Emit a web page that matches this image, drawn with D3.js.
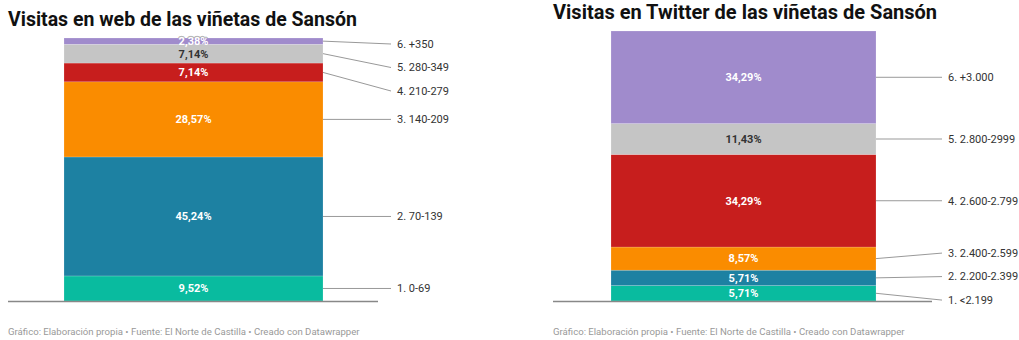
<!DOCTYPE html>
<html>
<head>
<meta charset="utf-8">
<script src="https://cdn.jsdelivr.net/npm/d3@7"></script>
<style>
  html, body { margin: 0; padding: 0; background: #fff; }
  svg { display: block; font-family: Roboto, "Noto Sans", sans-serif; }
</style>
</head>
<body>
<svg id="chart" width="1019" height="340"></svg>
<script>
// Datawrapper-style stacked columns, two panels side by side.
const webCategories = ['1. 0-69', '2. 70-139', '3. 140-209', '4. 210-279', '5. 280-349', '6. +350'];
const webValues = [9.52, 45.24, 28.57, 7.14, 7.14, 2.38];

const twitterCategories = ['1. <2.199', '2. 2.200-2.399', '3. 2.400-2.599', '4. 2.600-2.799', '5. 2.800-2999', '6. +3.000'];
const twitterValues = [5.71, 5.71, 8.57, 34.29, 11.43, 34.29];

const segmentColors = ['#09bb9f', '#1d81a2', '#fa8c00', '#c71e1d', '#c5c5c5', '#a08bcc'];
const darkText = ['#c5c5c5'];

const titles = ['Visitas en web de las viñetas de Sansón', 'Visitas en Twitter de las viñetas de Sansón'];
const footer = 'Gráfico: Elaboración propia • Fuente: El Norte de Castilla • Creado con Datawrapper';

const svg = d3.select('#chart');
const fmt = v => d3.format('.2f')(v).replace('.', ',') + '%';

const panels = [
  { left: 8, titleY: 26, titleSize: 19.5, barX: 64, barW: 259, top: 38, bottom: 301, baseEnd: 378, labelX: 397,
    categories: webCategories, values: webValues, title: titles[0] },
  { left: 553, titleY: 18.5, titleSize: 20, barX: 611, barW: 265, top: 31, bottom: 301, baseEnd: 932, labelX: 948,
    categories: twitterCategories, values: twitterValues, title: titles[1] }
];

// spreads labels so they don't overlap: merge clashing groups around their mean.
// targets must be sorted top to bottom.
function dodge(targets, gap, minY, maxY) {
  const place = g => {
    let start = g.mean - (g.n - 1) * gap / 2;
    g.start = Math.max(minY, Math.min(start, maxY - (g.n - 1) * gap));
  };
  const groups = targets.map((t, i) => ({ idx: [i], mean: t, n: 1 }));
  groups.forEach(place);
  let changed = true;
  while (changed) {
    changed = false;
    for (let i = 0; i < groups.length - 1; i++) {
      const a = groups[i], b = groups[i + 1];
      if (b.start - (a.start + (a.n - 1) * gap) < gap) {
        const idx = a.idx.concat(b.idx);
        const merged = { idx, n: idx.length, mean: d3.mean(idx, j => targets[j]) };
        place(merged);
        groups.splice(i, 2, merged);
        changed = true;
        break;
      }
    }
  }
  const out = [];
  groups.forEach(g => g.idx.forEach((j, k) => { out[j] = g.start + k * gap; }));
  return out;
}

panels.forEach(p => {
  const g = svg.append('g');

  g.append('text')
    .attr('x', p.left).attr('y', p.titleY)
    .attr('font-size', p.titleSize + 'px').attr('font-weight', 700).attr('fill', '#111')
    .text(p.title);

  const y = d3.scaleLinear().domain([0, d3.sum(p.values)]).range([p.bottom, p.top]);
  const stack = p.values.map((v, i) => {
    const y0 = d3.sum(p.values.slice(0, i));
    return { v, i, y0, y1: y0 + v, cat: p.categories[i] };
  });

  g.selectAll('rect.seg').data(stack).join('rect')
    .attr('class', 'seg')
    .attr('x', p.barX).attr('width', p.barW)
    .attr('y', d => y(d.y1)).attr('height', d => y(d.y0) - y(d.y1))
    .attr('fill', d => segmentColors[d.i])
    .attr('stroke', 'rgba(255,255,255,0.35)').attr('stroke-width', 0.5);

  // baseline
  g.append('line')
    .attr('x1', p.left).attr('x2', p.baseEnd)
    .attr('y1', p.bottom + 0.5).attr('y2', p.bottom + 0.5)
    .attr('stroke', '#888').attr('stroke-width', 1.5);

  // value labels inside segments
  const vals = g.selectAll('text.val').data(stack).join('text')
    .attr('class', 'val')
    .attr('x', p.barX + p.barW / 2)
    .attr('y', d => (y(d.y0) + y(d.y1)) / 2)
    .attr('dy', '0.35em')
    .attr('text-anchor', 'middle')
    .attr('font-size', '11px').attr('font-weight', 700)
    .attr('fill', d => darkText.includes(segmentColors[d.i]) ? '#333' : '#fff')
    .text(d => fmt(d.v));
  vals.filter(d => !darkText.includes(segmentColors[d.i]))
    .clone(true).lower()
    .attr('fill', 'none')
    .attr('stroke', 'rgba(0,0,0,0.3)').attr('stroke-width', 2.5)
    .attr('stroke-linejoin', 'round');

  // category labels with leader lines (stack runs bottom-up, so reverse for dodge)
  const mids = stack.map(d => (y(d.y0) + y(d.y1)) / 2);
  const order = d3.range(stack.length).sort((a, b) => mids[a] - mids[b]);
  const placed = dodge(order.map(i => mids[i]), 23.5, p.top + 6, p.bottom + 4);
  const labelY = [];
  order.forEach((i, k) => { labelY[i] = placed[k]; });

  g.selectAll('line.lead').data(stack).join('line')
    .attr('class', 'lead')
    .attr('x1', p.barX + p.barW).attr('y1', (d, i) => mids[i])
    .attr('x2', p.labelX - 6).attr('y2', (d, i) => labelY[i])
    .attr('stroke', '#999').attr('stroke-width', 1);

  g.selectAll('text.cat').data(stack).join('text')
    .attr('class', 'cat')
    .attr('x', p.labelX).attr('y', (d, i) => labelY[i])
    .attr('dy', '0.35em')
    .attr('font-size', '11px').attr('fill', '#333')
    .text(d => d.cat);

  g.append('text')
    .attr('x', p.left).attr('y', 335)
    .attr('font-size', '9.6px').attr('fill', '#999')
    .text(footer);
});
</script>
</body>
</html>
